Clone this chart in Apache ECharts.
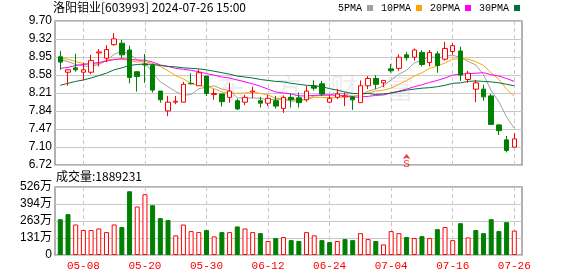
<!DOCTYPE html>
<html><head><meta charset="utf-8">
<script src="https://cdn.jsdelivr.net/npm/echarts@6/dist/echarts.min.js"></script>
<style>html,body{margin:0;padding:0;background:#fff}#c{width:578px;height:276px}</style>
</head><body><div id="c"></div>
<script>
const dates = ['04-30','05-06','05-07','05-08','05-09','05-10','05-13','05-14','05-15','05-16','05-17','05-20','05-21','05-22','05-23','05-24','05-27','05-28','05-29','05-30','05-31','06-03','06-04','06-05','06-06','06-07','06-11','06-12','06-13','06-14','06-17','06-18','06-19','06-20','06-21','06-24','06-25','06-26','06-27','06-28','07-01','07-02','07-03','07-04','07-05','07-08','07-09','07-10','07-11','07-12','07-15','07-16','07-17','07-18','07-19','07-22','07-23','07-24','07-25','07-26'];
const opens = [8.96,8.64,8.73,8.64,8.64,9.04,8.93,9.21,9.24,9.10, 8.65,8.81,8.78,8.25,7.84,8.02,8.02,8.41,8.36,8.56, 8.18,8.19,8.12,8.05,8.02,8.23,8.05,8.00,8.05,7.89, 8.12,8.11,8.07,8.36,8.40,8.02,8.12,8.13,8.13,8.01, 8.36,8.51,8.42,8.71,8.72,9.00,8.95,9.05,8.84,9.02, 8.91,9.07,9.08,8.49,8.29,8.29,8.15,7.55,7.24,7.09];
const closes = [8.85,8.69,8.69,8.69,8.88,9.06,9.11,9.33,9.00,8.53, 8.55,8.79,8.27,8.07,8.02,8.04,8.39,8.40,8.63,8.20, 8.20,8.03,8.25,7.88,8.12,8.25,8.00,8.10,7.94,8.12, 8.07,8.01,8.25,8.31,8.19,8.10,8.19,8.15,8.07,8.36, 8.51,8.39,8.47,8.67,8.95,8.94,9.10,8.80,9.05,8.78, 9.13,9.19,8.58,8.62,8.42,8.13,7.56,7.43,7.02,7.26];
const lows = [8.69,8.36,8.65,8.47,8.60,8.76,8.85,9.19,8.93,8.41, 8.24,8.42,8.22,8.01,7.73,7.98,8.02,8.39,8.36,8.15, 8.07,7.93,8.01,7.86,7.96,8.10,7.91,7.94,7.89,7.80, 7.91,7.91,8.03,8.26,8.15,8.00,8.08,7.94,7.86,8.01, 8.29,8.29,8.33,8.63,8.67,8.88,8.88,8.76,8.76,8.63, 8.88,9.00,8.46,8.42,8.02,8.05,7.56,7.34,6.98,7.09];
const highs = [9.08,8.70,9.02,8.84,9.00,9.12,9.20,9.45,9.31,9.19, 8.66,9.02,8.82,8.25,8.15,8.15,8.44,8.62,8.70,8.56, 8.29,8.19,8.42,8.09,8.17,8.34,8.13,8.17,8.15,8.16, 8.20,8.22,8.36,8.47,8.46,8.17,8.29,8.22,8.15,8.47, 8.56,8.58,8.47,8.81,9.01,9.06,9.13,9.10,9.10,9.07, 9.27,9.24,9.17,8.67,8.48,8.38,8.19,7.56,7.32,7.38];
const volumes = [277,316,236,193,193,205,177,236,216,493, 375,470,385,285,270,152,236,185,177,193, 144,177,177,221,205,177,169,108,131,139, 115,108,177,152,115,100,108,123,115,169, 123,108,82,185,169,139,131,146,131,200, 216,115,246,136,193,169,277,185,254,188.92];
const ma5 = [8.90,8.86,8.80,8.77,8.76,8.80,8.88,9.01,9.08,9.01, 8.90,8.84,8.63,8.44,8.34,8.24,8.16,8.18,8.30,8.33, 8.36,8.29,8.26,8.11,8.10,8.11,8.10,8.07,8.08,8.08, 8.04,8.05,8.08,8.15,8.16,8.17,8.21,8.19,8.14,8.17, 8.25,8.29,8.36,8.48,8.60,8.68,8.83,8.89,8.97,8.93, 8.97,8.99,8.95,8.86,8.79,8.59,8.26,8.03,7.71,7.48];
const ma10 = [8.93,8.91,8.86,8.82,8.80,8.82,8.89,8.91,8.91,8.88, 8.85,8.86,8.82,8.76,8.67,8.57,8.50,8.41,8.37,8.34, 8.30,8.23,8.22,8.20,8.21,8.24,8.20,8.17,8.10,8.09, 8.08,8.07,8.07,8.12,8.12,8.11,8.13,8.13,8.14,8.17, 8.21,8.25,8.27,8.31,8.39,8.47,8.56,8.63,8.72,8.77, 8.83,8.91,8.92,8.91,8.86,8.78,8.63,8.49,8.29,8.14];
const ma20 = [8.72,8.74,8.78,8.80,8.82,8.84,8.87,8.90,8.92,8.91, 8.89,8.89,8.85,8.79,8.76,8.72,8.70,8.68,8.65,8.61, 8.58,8.54,8.52,8.48,8.44,8.40,8.35,8.29,8.23,8.21, 8.19,8.15,8.15,8.16,8.17,8.17,8.16,8.15,8.12,8.13, 8.14,8.16,8.17,8.21,8.25,8.29,8.34,8.38,8.43,8.47, 8.52,8.58,8.60,8.61,8.62,8.63,8.59,8.56,8.51,8.45];
const ma30 = [8.37,8.41,8.45,8.48,8.52,8.57,8.62,8.69,8.73,8.78, 8.80,8.81,8.80,8.78,8.76,8.75,8.73,8.72,8.71,8.69, 8.66,8.63,8.60,8.56,8.54,8.52,8.49,8.47,8.45,8.44, 8.41,8.39,8.37,8.36,8.34,8.30,8.27,8.23,8.20,8.20, 8.20,8.18,8.19,8.21,8.24,8.27,8.29,8.31,8.32,8.34, 8.37,8.41,8.42,8.45,8.46,8.45,8.44,8.42,8.39,8.36];
const priceTicks = ['6.72','7.10','7.47','7.84','8.21','8.58','8.95','9.32','9.70'];
const volTicks = ['0','131万','263万','394万','526万'];
const priceMin = 6.72, priceMax = 9.70, volMax = 526;
const signalDates = ['07-08'];
const signalPrices = [6.95];
const signalLabels = ['S'];
const maNames = ['5PMA','10PMA','20PMA','30PMA'];
const maColors = ['#a0a0a0','#ffa500','#ff00ff','#00703c'];
const lastVolumeText = '成交量:1889231';
const titleText = '洛阳钼业[603993] 2024-07-26 15:00';

const chart = echarts.init(document.getElementById('c'));
const labelEvery = (i) => i % 8 === 3;
const candles = dates.map((d, i) => [opens[i], closes[i], lows[i], highs[i]]);
const volData = volumes.map((v, i) => {
  const up = i === 0 ? closes[i] >= opens[i] : closes[i] >= closes[i - 1];
  return { value: v, itemStyle: up ? { color: '#ffffff', borderColor: '#ff0000', borderWidth: 1 } : { color: '#008000', borderColor: '#008000', borderWidth: 1 } };
});
const dataLeft = 60.3, dataWidth = 454, frameLeft = 55, frameWidth = 467;
const mainTop = 21, mainH = 144, volTop = 187, volH = 68;
const gridLine = { color: '#c8c8c8', width: 1 };
const dashLine = { color: '#c8c8c8', width: 1, type: [4, 3] };
const yLabel = { color: '#000', fontSize: 12, fontFamily: 'Liberation Sans, Noto Sans CJK SC', margin: 3 };
const frame = { show: true, borderColor: '#999', borderWidth: 1.5, backgroundColor: 'transparent' };

const maSeries = [ma5, ma10, ma20, ma30].map((arr, k) => ({
  name: maNames[k], type: 'line', xAxisIndex: 0, yAxisIndex: 0, data: arr,
  symbol: 'none', showSymbol: false, smooth: false, clip: false,
  color: maColors[k], lineStyle: { color: maColors[k], width: 1 }, z: 3
}));

chart.setOption({
  animation: false,
  title: [
    { text: titleText, left: 53, top: 1, padding: 0, textStyle: { fontSize: 12, fontWeight: 'normal', color: '#000', fontFamily: 'Noto Sans CJK SC' } },
    { text: lastVolumeText, left: 56, top: 170, padding: 0, textStyle: { fontSize: 12, fontWeight: 'normal', color: '#000', fontFamily: 'Noto Sans CJK SC' } }
  ],
  legend: {
    data: maNames, left: 338, top: 3, padding: 0, align: 'right', icon: 'rect',
    itemWidth: 6, itemHeight: 6, itemGap: 8, selectedMode: false,
    textStyle: { fontFamily: 'Liberation Mono', fontSize: 10, color: '#000', padding: [0, 0, 0, 0] }
  },
  graphic: [{
    type: 'text', left: 218, top: 74, z: -1, silent: true,
    style: { text: '东　方　财　富', fontSize: 28, fontFamily: 'Noto Sans CJK SC', fill: 'rgba(0,0,40,0.07)' }
  }],
  grid: [
    { left: dataLeft, top: mainTop, width: dataWidth, height: mainH },
    { left: dataLeft, top: volTop, width: dataWidth, height: volH },
    Object.assign({ left: frameLeft, top: mainTop, width: frameWidth, height: mainH }, frame),
    Object.assign({ left: frameLeft, top: volTop, width: frameWidth, height: volH }, frame)
  ],
  xAxis: [
    { type: 'category', gridIndex: 0, data: dates, boundaryGap: false, axisLine: { show: false }, axisTick: { show: false },
      axisLabel: { show: false, interval: labelEvery }, splitLine: { show: true, interval: labelEvery, lineStyle: dashLine } },
    { type: 'category', gridIndex: 1, data: dates, boundaryGap: false, axisLine: { show: false }, axisTick: { show: false },
      axisLabel: { interval: labelEvery, color: '#ff0000', fontSize: 11, fontFamily: 'Liberation Mono', margin: 6 },
      splitLine: { show: true, interval: labelEvery, lineStyle: dashLine } },
    { type: 'value', gridIndex: 2, min: 0, max: 1, show: false },
    { type: 'value', gridIndex: 3, min: 0, max: 1, show: false }
  ],
  yAxis: [
    { type: 'value', gridIndex: 0, min: priceMin, max: priceMax, show: false },
    { type: 'value', gridIndex: 1, min: 0, max: volMax, show: false },
    { type: 'value', gridIndex: 2, min: 0, max: priceTicks.length - 1, interval: 1,
      axisLine: { show: false }, axisTick: { show: false },
      axisLabel: Object.assign({ formatter: (v) => priceTicks[Math.round(v)] }, yLabel),
      splitLine: { show: true, lineStyle: gridLine } },
    { type: 'value', gridIndex: 3, min: 0, max: volMax, interval: volMax / (volTicks.length - 1),
      axisLine: { show: false }, axisTick: { show: false },
      axisLabel: Object.assign({ formatter: (v) => volTicks[Math.round(v / (volMax / (volTicks.length - 1)))] }, yLabel),
      splitLine: { show: true, lineStyle: gridLine } }
  ],
  series: [
    { name: 'K', type: 'candlestick', xAxisIndex: 0, yAxisIndex: 0, data: candles, barWidth: 5, clip: false,
      itemStyle: { color: '#ffffff', color0: '#008000', borderColor: '#ff0000', borderColor0: '#008000', borderWidth: 1 }, z: 4 },
    ...maSeries,
    { name: 'VOL', type: 'bar', xAxisIndex: 1, yAxisIndex: 1, data: volData, barWidth: 5, clip: false },
    { name: 'signal', type: 'scatter', xAxisIndex: 0, yAxisIndex: 0, clip: false,
      data: signalDates.map((d, k) => ({ value: [d, signalPrices[k]], label: { formatter: signalLabels[k] } })),
      symbol: 'arrow', symbolSize: [6, 5], itemStyle: { color: '#ff0000' },
      label: { show: true, position: 'bottom', distance: 0, color: '#ff0000', fontSize: 11, fontFamily: 'Liberation Mono' }, z: 5 }
  ]
});
</script>
</body></html>
